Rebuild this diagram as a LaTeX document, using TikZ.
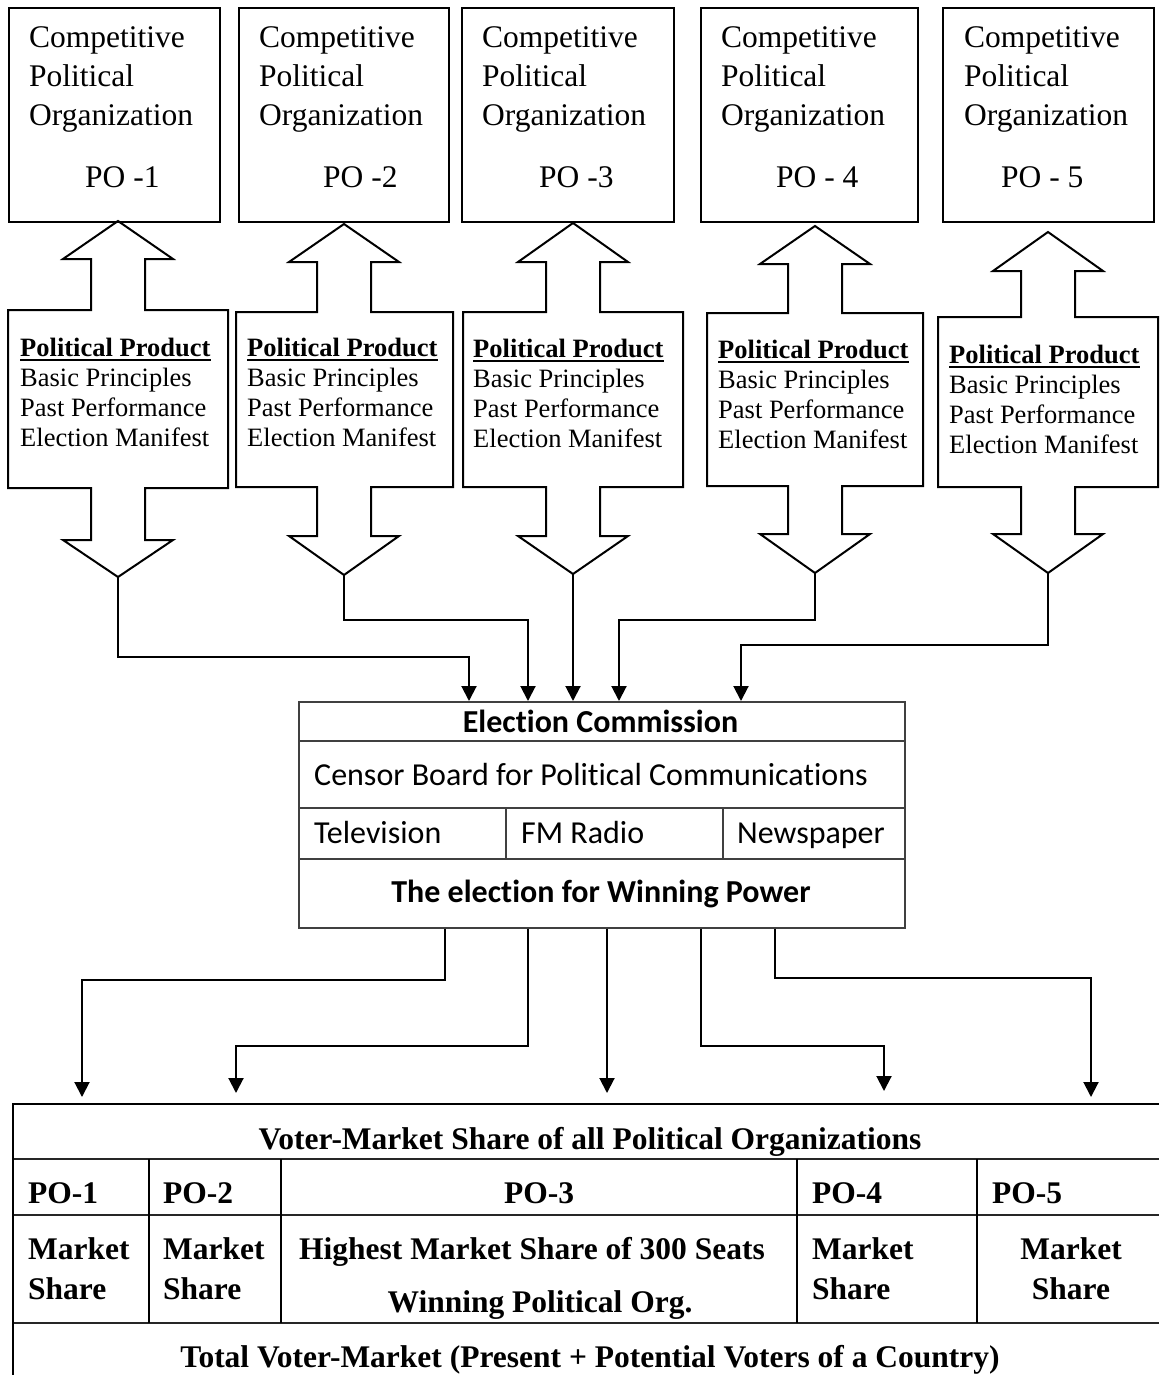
\documentclass[tikz,border=0pt]{standalone}
\usepackage{fontspec}
\setmainfont{Liberation Serif}
\newfontfamily\ecfont[Ligatures=NoCommon]{Carlito}
\usetikzlibrary{arrows.meta}

% organisation box: name, left, right, text left, label left, label
\newcommand\pobox[6]{%
  \node[box, anchor=north west, minimum width={#3-#2}, minimum height=214] (#1) at (#2,7) {};
  \node[potext] at (#4,48) {Competitive};
  \node[potext] at (#4,87) {Political};
  \node[potext] at (#4,126) {Organization};
  \node[potext] at (#5,188) {#6};
}

% double block arrow: centre x, body left, body right, top tip, top head base,
% body top, body bottom, bottom head base, bottom tip
\newcommand\blockarrow[9]{%
  \draw[box] (#1,#4) -- (#1+55,#5) -- (#1+27,#5) -- (#1+27,#6) -- (#3,#6)
    -- (#3,#7) -- (#1+27,#7) -- (#1+27,#8) -- (#1+55,#8) -- (#1,#9)
    -- (#1-55,#8) -- (#1-27,#8) -- (#1-27,#7) -- (#2,#7) -- (#2,#6)
    -- (#1-27,#6) -- (#1-27,#5) -- (#1-55,#5) -- cycle;
}

% text inside a block arrow: left x, first baseline, name
\newcommand\product[3]{%
  \node[ptext] (#3a) at (#1,#2) {\bfseries Political Product};
  \draw[line width=1.8pt] ([yshift=-4pt]#3a.base west) -- ([yshift=-4pt]#3a.base east);
  \node[ptext] (#3b) at (#1,#2+30.3) {Basic Principles};
  \node[ptext] (#3c) at (#1,#2+60.6) {Past Performance};
  \node[ptext] (#3d) at (#1,#2+90.9) {Election Manifest};
}

\begin{document}
\begin{tikzpicture}[x=1pt, y=-1pt,
  box/.style={draw, line width=2pt, inner sep=0pt},
  potext/.style={anchor=base west, inner sep=0pt, font=\fontsize{31.5}{38}\selectfont},
  ptext/.style={anchor=base west, inner sep=0pt, font=\fontsize{26.5}{30}\selectfont},
  ectext/.style={inner sep=0pt, font=\ecfont\fontsize{32}{38}\selectfont},
  ecline/.style={draw=black!75, line width=1.6pt},
  tabtext/.style={inner sep=0pt, font=\bfseries\fontsize{31.5}{38}\selectfont},
  conn/.style={line width=2pt, -{Triangle[width=15pt,length=15pt]}},
  link/.style={line width=2pt}
]
\useasboundingbox (0,0) rectangle (1159,1375);

% competing organisations
\pobox{po1}{8}{219}{29}{85}{PO -1}
\pobox{po2}{238}{448}{259}{323}{PO -2}
\pobox{po3}{461}{673}{482}{539}{PO -3}
\pobox{po4}{700}{917}{721}{776}{PO - 4}
\pobox{po5}{942}{1153}{964}{1001}{PO - 5}

% political products
\blockarrow{118}{8}{228}{221}{259}{310}{488}{540}{577}
\blockarrow{344}{236}{453}{224}{262}{312}{487}{536}{575}
\blockarrow{573}{463}{683}{223}{262}{312}{487}{536}{574}
\blockarrow{815}{707}{923}{226}{264}{313}{486}{534}{573}
\blockarrow{1048}{938}{1158}{232}{271}{317}{487}{534}{573}
\product{20}{356}{pp1}
\product{247}{356}{pp2}
\product{473}{357}{pp3}
\product{718}{358}{pp4}
\product{949}{363}{pp5}

\coordinate (tip1) at (118,577);
\coordinate (tip2) at (344,575);
\coordinate (tip3) at (573,574);
\coordinate (tip4) at (815,573);
\coordinate (tip5) at (1048,573);

% election commission
\node[ecline, anchor=north west, minimum width=606, minimum height=226, inner sep=0pt] (ec) at (298,701) {};
\draw[ecline] (298,741) -- (904,741);
\draw[ecline] (298,808) -- (904,808);
\draw[ecline] (298,859) -- (904,859);
\draw[ecline] (506,808) -- (506,859);
\draw[ecline] (723,808) -- (723,859);
\node[ectext, anchor=base, font=\ecfont\bfseries\fontsize{32}{38}\selectfont] (ecA) at (600.5,732) {Election Commission};
\node[ectext, anchor=base west] (ecB) at (314,785) {Censor Board for Political Communications};
\node[ectext, anchor=base west] (ecC) at (314,843) {Television};
\node[ectext, anchor=base west] (ecD) at (521,843) {FM Radio};
\node[ectext, anchor=base west] (ecE) at (737,843) {Newspaper};
\node[ectext, anchor=base, font=\ecfont\bfseries\fontsize{32}{38}\selectfont] (ecF) at (601,902) {The election for Winning Power};

% products into the commission
\draw[conn] (tip1) -- (118,657) -- (469,657) -- (469,0 |- ec.north);
\draw[conn] (tip2) -- (344,620) -- (528,620) -- (528,0 |- ec.north);
\draw[conn] (tip3) -- (573,0 |- ec.north);
\draw[conn] (tip4) -- (815,620) -- (619,620) -- (619,0 |- ec.north);
\draw[conn] (tip5) -- (1048,645) -- (741,645) -- (741,0 |- ec.north);

% results into the voter market
\coordinate (vm1) at (82,1097);
\coordinate (vm2) at (236,1093);
\coordinate (vm3) at (607,1093);
\coordinate (vm4) at (884,1091);
\coordinate (vm5) at (1091,1097);
\draw[conn] (445,0 |- ec.south) -- (445,980) -- (82,980) -- (vm1);
\draw[conn] (528,0 |- ec.south) -- (528,1046) -- (236,1046) -- (vm2);
\draw[conn] (607,0 |- ec.south) -- (vm3);
\draw[conn] (701,0 |- ec.south) -- (701,1046) -- (884,1046) -- (vm4);
\draw[conn] (775,0 |- ec.south) -- (775,978) -- (1091,978) -- (vm5);

% voter-market table
\draw[line width=2pt] (12,1104) -- (1159,1104);
\draw[line width=2pt, draw=black!85] (13,1159) -- (1159,1159);
\draw[line width=2pt, draw=black!85] (13,1215) -- (1159,1215);
\draw[line width=2pt, draw=black!85] (13,1323) -- (1159,1323);
\draw[line width=1.4pt] (13,1103) -- (13,1375);
\foreach \cx in {149,281,797,977}
  \draw[line width=1.4pt] (\cx,1159) -- (\cx,1323);

\node[tabtext, anchor=base] (vmTitle) at (590,1149) {Voter-Market Share of all Political Organizations};
\node[tabtext, anchor=base west] (h1) at (28,1203) {PO-1};
\node[tabtext, anchor=base west] (h2) at (163,1203) {PO-2};
\node[tabtext, anchor=base] (h3) at (539,1203) {PO-3};
\node[tabtext, anchor=base west] (h4) at (812,1203) {PO-4};
\node[tabtext, anchor=base west] (h5) at (992,1203) {PO-5};
\node[tabtext, anchor=base west] (m1a) at (28,1259) {Market};
\node[tabtext, anchor=base west] (m1b) at (28,1299) {Share};
\node[tabtext, anchor=base west] (m2a) at (163,1259) {Market};
\node[tabtext, anchor=base west] (m2b) at (163,1299) {Share};
\node[tabtext, anchor=base] (m3a) at (532,1259) {Highest Market Share of 300 Seats};
\node[tabtext, anchor=base] (m3b) at (540,1312) {Winning Political Org.};
\node[tabtext, anchor=base west] (m4a) at (812,1259) {Market};
\node[tabtext, anchor=base west] (m4b) at (812,1299) {Share};
\node[tabtext, anchor=base] (m5a) at (1071,1259) {Market};
\node[tabtext, anchor=base] (m5b) at (1071,1299) {Share};
\node[tabtext, anchor=base] (total) at (590,1367) {Total Voter-Market (Present + Potential Voters of a Country)};
\end{tikzpicture}
\end{document}
